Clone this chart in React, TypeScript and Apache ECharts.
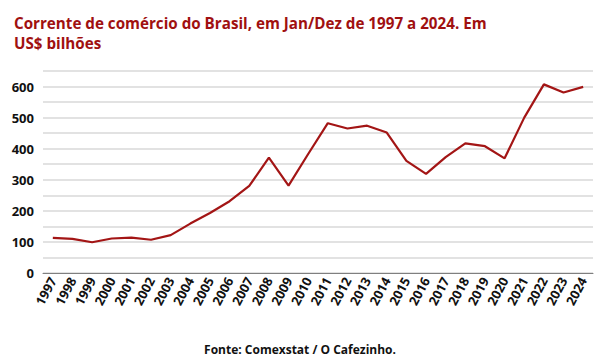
import React, { useEffect, useRef } from "react";
import * as echarts from "echarts";

const years = ["1997","1998","1999","2000","2001","2002","2003","2004","2005","2006","2007","2008","2009","2010","2011","2012","2013","2014","2015","2016","2017","2018","2019","2020","2021","2022","2023","2024"];
const values = [113,110,99,111,114,107,122,159,193,231,280,371,281,383,482,465,474,452,361,319,373,417,408,369,500,607,581,599];
const titleText = "Corrente de comércio do Brasil, em Jan/Dez de 1997 a 2024. Em\nUS$ bilhões";
const sourceText = "Fonte: Comexstat / O Cafezinho.";

export default function App() {
  const ref = useRef<HTMLDivElement>(null);
  useEffect(() => {
    if (!ref.current) return;
    const chart = echarts.init(ref.current, null, { renderer: "svg" });
    chart.setOption({
      animation: false,
      backgroundColor: "#ffffff",
      title: [
        {
          text: titleText,
          left: 9,
          top: 8,
          textStyle: { color: "#A01010", fontSize: 15.2, fontWeight: "bold", fontFamily: "Open Sans", lineHeight: 20 },
        },
        {
          text: sourceText,
          left: "center",
          top: 338,
          textStyle: { color: "#111", fontSize: 12, fontWeight: "bold", fontFamily: "Open Sans" },
        },
      ],
      grid: { left: 43, right: 7, top: 71, bottom: 89, containLabel: false },
      xAxis: {
        type: "category",
        data: years,
        boundaryGap: true,
        axisLine: { lineStyle: { color: "#7f7f7f", width: 1 } },
        axisTick: { show: false },
        axisLabel: {
          interval: 0,
          rotate: 62,
          color: "#111",
          fontSize: 13,
          fontWeight: "bold",
          fontFamily: "Open Sans",
          margin: 5,
        },
      },
      yAxis: {
        type: "value",
        min: 0,
        max: 650,
        interval: 50,
        axisLine: { show: false },
        axisTick: { show: false },
        splitLine: { lineStyle: { color: "#d9d9d9", width: 1.5 } },
        axisLabel: {
          color: "#111",
          fontSize: 13,
          fontWeight: "bold",
          fontFamily: "Open Sans",
          margin: 9,
          formatter: (v: number) => (v % 100 === 0 && v <= 600 ? String(v) : ""),
        },
      },
      series: [
        {
          type: "line",
          data: values,
          symbol: "none",
          lineStyle: { color: "#A31515", width: 2.2 },
        },
      ],
    });
    return () => chart.dispose();
  }, []);
  return <div ref={ref} style={{ width: 600, height: 362, position: "absolute", left: 0, top: 0 }} />;
}
